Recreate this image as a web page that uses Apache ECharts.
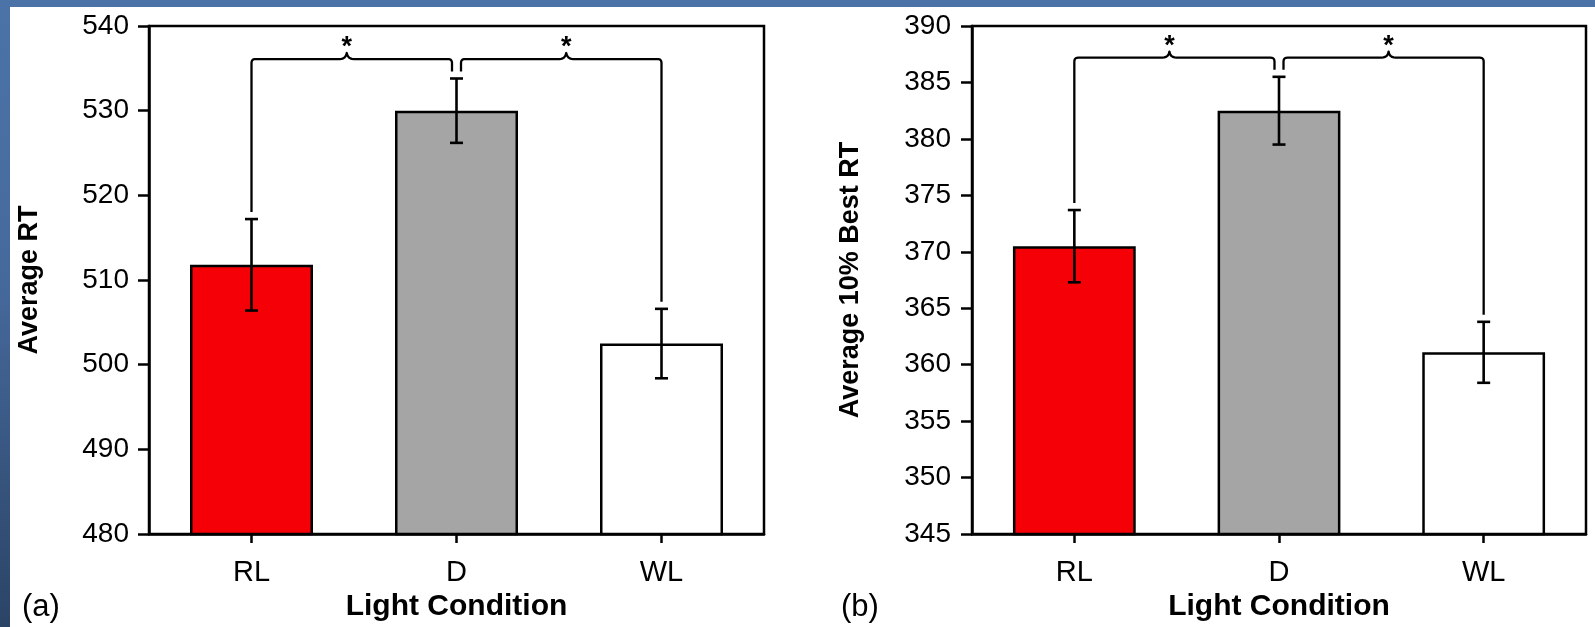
<!DOCTYPE html>
<html>
<head>
<meta charset="utf-8">
<script src="https://cdn.jsdelivr.net/npm/echarts@6/dist/echarts.min.js"></script>
<style>
  html, body { margin: 0; padding: 0; }
  body {
    width: 1595px; height: 627px; overflow: hidden; position: relative;
    background: linear-gradient(to bottom, #4b73a8 0%, #46699c 45%, #2b4466 100%);
  }
  #sheet { position: absolute; left: 10px; top: 7px; right: 0; bottom: 0; background: #ffffff; }
  #chart { position: absolute; left: 0; top: 0; width: 1595px; height: 627px; }
</style>
</head>
<body>
<div id="sheet"></div>
<div id="chart"></div>
<script>
// Light conditions on the x axis
const categories = ['RL', 'D', 'WL'];
const barColors = ['#f60008', '#a5a5a5', '#ffffff'];

// Panel (a): average reaction time, mean and standard error
const avgRT = [511.8, 530.0, 502.5];
const avgRTErr = [5.4, 3.8, 4.1];
const avgRTAxis = { min: 480, max: 540, interval: 10 };
const avgRTSigLevel = 536.1;

// Panel (b): average of the 10% fastest reaction times
const bestRT = [370.5, 382.5, 361.1];
const bestRTErr = [3.2, 3.0, 2.7];
const bestRTAxis = { min: 345, max: 390, interval: 5 };
const bestRTSigLevel = 387.2;

// Pairs of conditions marked as significantly different
const sigPairs = [[0, 1], [1, 2]];

const FONT = '"Liberation Sans", Arial, Helvetica, sans-serif';
const BLACK = '#000000';
const FRAME_W = 2.5;

const chart = echarts.init(document.getElementById('chart'), null, { renderer: 'canvas' });

function xAxisFor(gridIndex) {
  return {
    gridIndex, type: 'category', data: categories,
    axisLine: { show: true, lineStyle: { color: BLACK, width: FRAME_W } },
    axisTick: { show: true, alignWithLabel: true, length: 9, lineStyle: { color: BLACK, width: 2.5 } },
    axisLabel: { color: BLACK, fontSize: 29, fontFamily: FONT, margin: 24 },
    name: 'Light Condition', nameLocation: 'middle', nameGap: 57,
    nameTextStyle: { color: BLACK, fontSize: 30, fontWeight: 'bold', fontFamily: FONT }
  };
}

function yAxisFor(gridIndex, range, title, gap, labelMargin) {
  return {
    gridIndex, type: 'value', min: range.min, max: range.max, interval: range.interval,
    splitLine: { show: false },
    axisLine: { show: true, lineStyle: { color: BLACK, width: FRAME_W } },
    axisTick: { show: true, length: 11, lineStyle: { color: BLACK, width: 2.5 } },
    axisLabel: { color: BLACK, fontSize: 28, fontFamily: FONT, margin: labelMargin },
    name: title, nameLocation: 'middle', nameGap: gap, nameRotate: 90,
    nameTextStyle: { color: BLACK, fontSize: 27, fontWeight: 'bold', fontFamily: FONT }
  };
}

function barSeries(idx, means) {
  return {
    type: 'bar', xAxisIndex: idx, yAxisIndex: idx, barWidth: '60%',
    itemStyle: { borderColor: BLACK, borderWidth: 2.5 },
    data: means.map((v, i) => ({ value: v, itemStyle: { color: barColors[i] } })),
    z: 2
  };
}

function errorSeries(idx, means, errs) {
  return {
    type: 'custom', xAxisIndex: idx, yAxisIndex: idx, z: 5,
    encode: { x: 0, y: [1, 2] },
    data: means.map((m, i) => [i, m - errs[i], m + errs[i]]),
    renderItem(params, api) {
      const lo = api.coord([api.value(0), api.value(1)]);
      const hi = api.coord([api.value(0), api.value(2)]);
      const hw = 6.5;
      const st = { stroke: BLACK, lineWidth: 2.6, fill: null };
      return {
        type: 'group',
        children: [
          { type: 'line', shape: { x1: lo[0], y1: lo[1], x2: hi[0], y2: hi[1] }, style: st },
          { type: 'line', shape: { x1: lo[0] - hw, y1: lo[1], x2: lo[0] + hw, y2: lo[1] }, style: st },
          { type: 'line', shape: { x1: hi[0] - hw, y1: hi[1], x2: hi[0] + hw, y2: hi[1] }, style: st }
        ]
      };
    }
  };
}

// sample a quadratic curve into polyline points
function quad(p0, c, p1, n) {
  const pts = [];
  for (let k = 1; k <= n; k++) {
    const t = k / n, u = 1 - t;
    pts.push([u * u * p0[0] + 2 * u * t * c[0] + t * t * p1[0],
              u * u * p0[1] + 2 * u * t * c[1] + t * t * p1[1]]);
  }
  return pts;
}

function bracketSeries(idx, means, errs, level) {
  const use = categories.map((_, i) => sigPairs.filter(p => p[0] === i || p[1] === i).length);
  return {
    type: 'custom', xAxisIndex: idx, yAxisIndex: idx, z: 6,
    encode: { x: 0, y: 2 },
    data: sigPairs.map(([a, b]) => [a, b, level, means[a] + errs[a], means[b] + errs[b]]),
    renderItem(params, api) {
      const a = api.value(0), b = api.value(1);
      const pa = api.coord([a, api.value(2)]);
      const pb = api.coord([b, api.value(2)]);
      const yc = pa[1];
      const sharedA = use[a] > 1, sharedB = use[b] > 1;
      const xa = pa[0] + (sharedA ? 4.5 : 0);
      const xb = pb[0] - (sharedB ? 4.5 : 0);
      const ya = api.coord([a, api.value(3)])[1] - 7;
      const yb = api.coord([b, api.value(4)])[1] - 7;
      const bx = (xa + xb) / 2 + (sharedA ? 5 : 0) - (sharedB ? 5 : 0);
      const r = 4, bw = 7, bh = 6;
      let pts = [[xa, ya], [xa, yc + r]];
      pts = pts.concat(quad([xa, yc + r], [xa, yc], [xa + r, yc], 5));
      pts.push([bx - bw, yc]);
      pts = pts.concat(quad([bx - bw, yc], [bx - 1, yc], [bx, yc - bh], 6));
      pts = pts.concat(quad([bx, yc - bh], [bx + 1, yc], [bx + bw, yc], 6));
      pts.push([xb - r, yc]);
      pts = pts.concat(quad([xb - r, yc], [xb, yc], [xb, yc + r], 5));
      pts.push([xb, yb]);
      return {
        type: 'group',
        children: [
          { type: 'polyline', shape: { points: pts },
            style: { stroke: BLACK, lineWidth: 2.3, fill: null, lineJoin: 'round' } },
          { type: 'text',
            style: { text: '*', x: bx, y: yc - 11.5, align: 'center', verticalAlign: 'middle',
                     font: 'bold 27px ' + FONT, fill: BLACK } }
        ]
      };
    }
  };
}

const option = {
  animation: false,
  backgroundColor: 'transparent',
  grid: [
    { left: 149, top: 26, width: 615, height: 510, show: true, borderColor: BLACK, borderWidth: FRAME_W, backgroundColor: 'transparent' },
    { left: 972, top: 26, width: 614, height: 510, show: true, borderColor: BLACK, borderWidth: FRAME_W, backgroundColor: 'transparent' }
  ],
  xAxis: [xAxisFor(0), xAxisFor(1)],
  yAxis: [
    yAxisFor(0, avgRTAxis, 'Average RT', 106, 20),
    yAxisFor(1, bestRTAxis, 'Average 10% Best RT', 108, 21)
  ],
  series: [
    barSeries(0, avgRT), errorSeries(0, avgRT, avgRTErr), bracketSeries(0, avgRT, avgRTErr, avgRTSigLevel),
    barSeries(1, bestRT), errorSeries(1, bestRT, bestRTErr), bracketSeries(1, bestRT, bestRTErr, bestRTSigLevel)
  ],
  graphic: [
    { type: 'text', left: 22, top: 592, style: { text: '(a)', font: '31px ' + FONT, fill: BLACK } },
    { type: 'text', left: 841, top: 592, style: { text: '(b)', font: '31px ' + FONT, fill: BLACK } }
  ]
};

chart.setOption(option);
</script>
</body>
</html>
